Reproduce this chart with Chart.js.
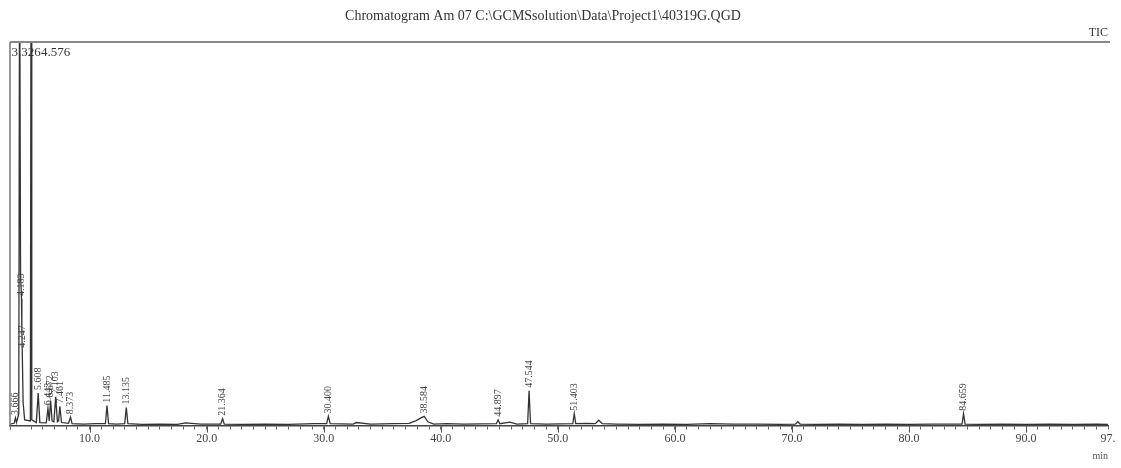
<!DOCTYPE html>
<html>
<head>
<meta charset="utf-8">
<script src="https://cdn.jsdelivr.net/npm/chart.js@4.4.1/dist/chart.umd.min.js"></script>
<style>
  html, body { margin: 0; padding: 0; background: #fff; }
  canvas { display: block; }
</style>
</head>
<body>
<canvas id="tic" width="1121" height="468"></canvas>
<script>
const TITLE = 'Chromatogram Am 07 C:\\GCMSsolution\\Data\\Project1\\40319G.QGD';
const SERIF = '"Liberation Serif", "DejaVu Serif", serif';
const INK = '#333';

// x range of the run (min)
const X_MIN = 3.2, X_MAX = 97.0;

// TIC trace, [time (min), intensity (% of full scale)]
const trace = [
  [3.20, 0.4], [3.55, 0.6], [3.666, 2.0], [3.75, 0.8], [3.95, 3.0], [4.02, 130],
  [4.10, 40], [4.183, 33], [4.215, 24], [4.247, 19.5], [4.32, 6], [4.45, 1.5],
  [4.94, 1.2], [5.00, 130], [5.06, 1.5], [5.45, 0.8], [5.608, 8.5], [5.75, 0.8],
  [6.30, 0.7], [6.443, 4.5], [6.55, 1.2], [6.672, 6.5], [6.80, 1.2], [6.95, 1.0],
  [7.103, 7.5], [7.25, 1.0], [7.35, 1.2], [7.461, 5.0], [7.60, 0.8], [8.20, 0.6],
  [8.373, 2.2], [8.50, 0.5], [9.50, 0.4], [10.50, 0.5], [11.35, 0.5], [11.485, 5.2],
  [11.62, 0.5], [12.30, 0.4], [13.00, 0.5], [13.135, 4.7], [13.27, 0.5], [14.50, 0.3],
  [16.00, 0.4], [17.50, 0.3], [18.20, 0.7], [19.50, 0.4], [21.20, 0.4], [21.364, 1.8],
  [21.50, 0.4], [23.00, 0.3], [25.00, 0.4], [27.00, 0.3], [29.20, 0.5], [30.25, 0.5],
  [30.400, 2.4], [30.55, 0.5], [32.50, 0.4], [32.80, 0.8], [34.00, 0.4], [36.00, 0.5],
  [37.30, 0.6], [37.90, 1.3], [38.30, 2.0], [38.584, 2.4], [38.90, 1.0], [39.40, 0.4],
  [40.50, 0.5], [42.00, 0.4], [44.75, 0.5], [44.897, 1.5], [45.05, 0.5], [45.90, 0.9],
  [46.50, 0.4], [47.42, 0.5], [47.544, 9.1], [47.67, 0.5], [49.00, 0.4], [51.28, 0.5],
  [51.403, 3.1], [51.53, 0.5], [52.50, 0.6], [53.20, 0.5], [53.50, 1.4], [53.80, 0.5],
  [55.00, 0.4], [57.00, 0.3], [59.00, 0.4], [61.00, 0.3], [63.00, 0.5], [65.00, 0.4],
  [67.00, 0.4], [69.00, 0.3], [70.30, 0.4], [70.50, 1.0], [70.70, 0.4], [72.00, 0.3],
  [74.00, 0.4], [76.00, 0.3], [78.00, 0.4], [80.00, 0.3], [82.00, 0.4], [84.53, 0.4],
  [84.659, 3.1], [84.79, 0.4], [86.00, 0.3], [88.00, 0.4], [90.00, 0.3], [92.00, 0.4],
  [94.00, 0.3], [96.00, 0.4], [97.00, 0.3]
];

// labelled peaks (vertical labels above the apex)
const peakTimes   = [3.666, 4.183, 4.247, 5.608, 6.443, 6.672, 7.103, 7.461, 8.373,
                     11.485, 13.135, 21.364, 30.400, 38.584, 44.897, 47.544, 51.403, 84.659];
const peakHeights = [2.0, 33, 19.5, 8.5, 4.5, 6.5, 7.5, 5.0, 2.2,
                     5.2, 4.7, 1.8, 2.4, 2.4, 1.5, 9.1, 3.1, 3.1];

// off-scale peaks, labelled horizontally at the top
const bigPeakTimes  = [4.02, 5.00];
const bigPeakLabels = ['3.326', '4.576'];

const decor = {
  id: 'decor',
  afterDraw(chart) {
    const { ctx, chartArea: a, scales: { x, y } } = chart;
    ctx.save();
    // title + channel
    ctx.fillStyle = INK;
    ctx.font = '14px ' + SERIF;
    ctx.textAlign = 'center';
    ctx.textBaseline = 'middle';
    ctx.fillText(TITLE, 543, 16);
    ctx.font = '12px ' + SERIF;
    ctx.textAlign = 'right';
    ctx.fillText('TIC', a.right, 33);
    // frame: top and left
    ctx.strokeStyle = '#888';
    ctx.lineWidth = 2;
    ctx.beginPath();
    ctx.moveTo(a.left, a.top); ctx.lineTo(a.right + 2, a.top);
    ctx.stroke();
    ctx.lineWidth = 1.5;
    ctx.strokeStyle = '#777';
    ctx.beginPath();
    ctx.moveTo(a.left, a.top); ctx.lineTo(a.left, a.bottom);
    ctx.stroke();
    // longer ticks every 10 min
    ctx.strokeStyle = '#555';
    ctx.lineWidth = 1;
    for (let t = 10; t <= X_MAX; t += 10) {
      const px = Math.round(x.getPixelForValue(t)) + 0.5;
      ctx.beginPath(); ctx.moveTo(px, a.bottom); ctx.lineTo(px, a.bottom + 7); ctx.stroke();
    }
    // vertical peak labels
    ctx.fillStyle = '#444';
    ctx.font = '10px ' + SERIF;
    ctx.textAlign = 'left';
    ctx.textBaseline = 'middle';
    peakTimes.forEach((t, i) => {
      const px = x.getPixelForValue(t);
      const py = y.getPixelForValue(peakHeights[i]) - 3;
      ctx.save();
      ctx.translate(px, py);
      ctx.rotate(-Math.PI / 2);
      ctx.fillText(t.toFixed(3), 0, 0);
      ctx.restore();
    });
    // off-scale peaks
    ctx.fillStyle = INK;
    ctx.font = '13px ' + SERIF;
    ctx.fillText(bigPeakLabels[0], x.getPixelForValue(bigPeakTimes[0]) - 8, a.top + 11);
    ctx.fillText(bigPeakLabels[1], x.getPixelForValue(bigPeakTimes[1]) + 10, a.top + 11);
    ctx.restore();
  }
};

new Chart(document.getElementById('tic'), {
  type: 'line',
  data: {
    datasets: [{
      data: trace.map(([t, v]) => ({ x: t, y: v })),
      borderColor: INK, borderWidth: 1.3,
      pointRadius: 0, tension: 0
    }]
  },
  options: {
    responsive: false, animation: false, devicePixelRatio: 1,
    layout: { padding: { left: 10, right: 13, top: 42, bottom: 6 } },
    plugins: { legend: { display: false }, tooltip: { enabled: false } },
    scales: {
      x: {
        type: 'linear', min: X_MIN, max: X_MAX,
        ticks: {
          stepSize: 1, autoSkip: false, maxRotation: 0, padding: 2,
          color: '#444', font: { family: SERIF, size: 12 },
          callback: v => {
            if (Math.abs(v - X_MAX) < 1e-6) return '97.';
            return Math.abs(v % 10) < 1e-6 ? v.toFixed(1) : '';
          }
        },
        grid: { drawOnChartArea: false, tickLength: 4, color: '#666' },
        border: { color: '#444', width: 1.5 },
        title: { display: true, text: 'min', align: 'end', color: '#555',
                 font: { family: SERIF, size: 10 }, padding: { top: 2, bottom: 0 } }
      },
      y: { display: false, min: 0, max: 100 }
    }
  },
  plugins: [decor]
});
</script>
</body>
</html>
